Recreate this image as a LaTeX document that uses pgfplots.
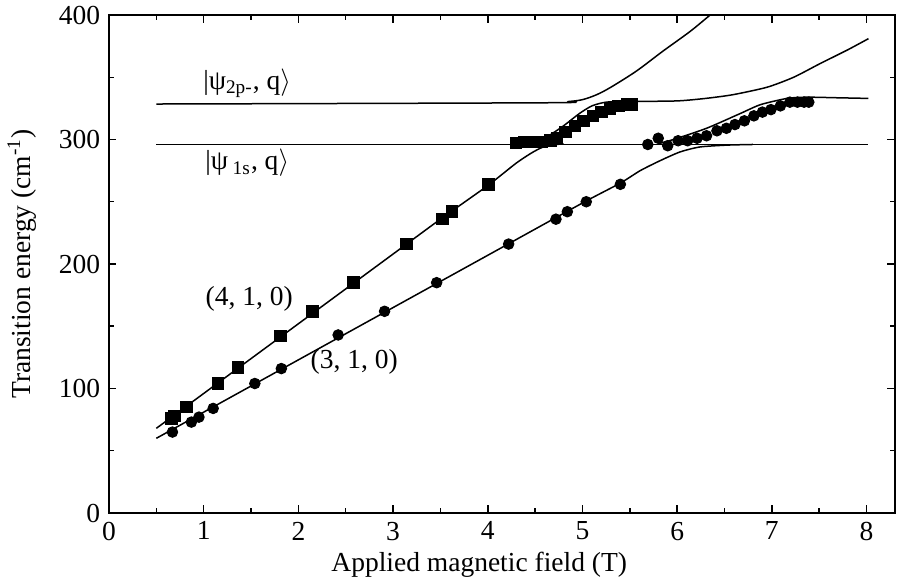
\documentclass[border=0pt]{standalone}
\usepackage{fontspec}
\setmainfont{Liberation Serif}
\usepackage{pgfplots}
\pgfplotsset{compat=1.18}
\begin{document}
\begin{tikzpicture}[font=\fontsize{11}{13}\selectfont]
\begin{axis}[
    scale only axis, width=314.4pt, height=199.2pt,
    xmin=0, xmax=8.3, ymin=0, ymax=400,
    xtick={0,1,...,8}, ytick={0,100,...,400},
    minor x tick num=1, minor y tick num=1,
    tick align=inside, major tick length=3pt, minor tick length=2pt,
    tick style={line width=0.6pt, black},
    axis line style={line width=0.9pt},
    /pgf/number format/assume math mode=true,
    xlabel={Applied magnetic field (T)},
    ylabel={Transition energy (cm\textsuperscript{-1})},
    xlabel style={at={(axis description cs:0.471,-0.104)}, anchor=center},
    ylabel style={at={(axis description cs:-0.111,0.5)}, anchor=center},
]
% theory curves
\addplot[black, line width=0.6pt] coordinates {(0.5,296) (8.02,296)};
\addplot[black, line width=0.6pt, smooth, tension=0.5] coordinates {
    (0.5,328.5) (4.6,329.5) (4.85,330.5) (5.0,332) (5.15,336) (5.3,342)
    (5.57,355) (5.85,371) (6.14,387) (6.38,402) (6.5,409)};
\addplot[black, line width=0.6pt, smooth, tension=0.4] coordinates {
    (4.3,296.5) (4.45,298) (4.62,302) (4.80,311) (4.97,321) (5.1,327)
    (5.25,330) (5.5,330.5) (6.0,331) (6.3,333) (6.59,336) (6.95,342)
    (7.23,350) (7.51,361) (7.80,372) (8.02,381)};
\addplot[black, line width=0.6pt, smooth, tension=0.4] coordinates {
    (0.5,68) (1,96) (1.5,124) (2,152) (2.5,180) (3,208) (3.5,236) (4,263)
    (4.3,281) (4.48,290) (4.62,295) (4.8,296.5)};
\addplot[black, line width=0.6pt, smooth, tension=0.4] coordinates {
    (0.5,60) (1,81) (2,123) (3,165) (4,207) (5,249) (5.4,265) (5.61,275)
    (5.82,283) (6.03,290) (6.24,294) (6.53,295.5) (6.8,296)};
\addplot[black, line width=0.6pt, smooth, tension=0.4] coordinates {
    (5.8,296.5) (5.96,300) (6.31,309) (6.67,321) (6.88,328) (7.16,333)
    (7.37,334) (7.7,333.5) (8.02,333)};
% (4,1,0) data
\addplot[only marks, mark=square*, mark size=2.3pt, black] coordinates {
    (0.66,76) (0.69,78) (0.82,85) (1.15,104) (1.36,117) (1.81,142)
    (2.15,162) (2.58,185) (3.14,216) (3.52,236) (3.62,242) (4.01,264)
    (4.30,297) (4.39,298) (4.48,298) (4.57,298) (4.66,299) (4.73,301)
    (4.82,306) (4.92,311) (5.01,315) (5.11,319) (5.20,322) (5.29,325)
    (5.38,327) (5.47,328) (5.52,328)};
% (3,1,0) data
\addplot[only marks, mark=*, mark size=2.1pt, black] coordinates {
    (0.67,65) (0.87,73) (0.95,77) (1.10,84) (1.54,104) (1.82,116)
    (2.42,143) (2.91,162) (3.46,185) (4.22,216) (4.72,236) (4.84,242)
    (5.04,250) (5.40,264) (5.69,296) (5.80,301) (5.90,295) (6.01,299)
    (6.11,299) (6.21,301) (6.31,303) (6.42,307) (6.52,309) (6.61,312)
    (6.71,315) (6.81,319) (6.90,322) (6.99,324) (7.09,327) (7.19,330)
    (7.27,330) (7.34,330) (7.39,330)};
\node at (axis cs:1.46,345) {|ψ\textsubscript{2p-}, q\(\rangle\)};
\node at (axis cs:1.46,281) {|ψ\,\textsubscript{1s}, q\(\rangle\)};
\node at (axis cs:1.48,172) {(4, 1, 0)};
\node at (axis cs:2.59,121) {(3, 1, 0)};
\end{axis}
\pgfresetboundingbox
\path[use as bounding box] (-43.6pt,-26.8pt) rectangle (315.6pt,205.2pt);
\end{tikzpicture}
\end{document}
